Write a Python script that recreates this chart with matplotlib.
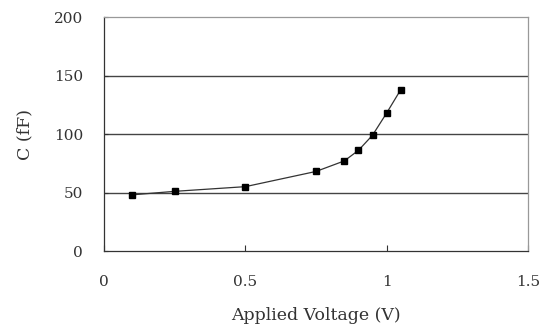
import matplotlib.pyplot as plt

# --- Data -------------------------------------------------------------------
voltage = [0.1, 0.25, 0.5, 0.75, 0.85, 0.9, 0.95, 1.0, 1.05]
capacitance = [48, 51, 55, 68, 77, 86, 99, 118, 138]

x_ticks = [0, 0.5, 1, 1.5]
x_tick_labels = ["0", "0.5", "1", "1.5"]
y_ticks = [0, 50, 100, 150, 200]

# --- Plot -------------------------------------------------------------------
plt.rcParams['font.family'] = ['DejaVu Serif', 'Liberation Serif']

fig = plt.figure(figsize=(5.55, 3.27), dpi=100)
ax = fig.add_axes([0.1874, 0.2324, 0.764, 0.7156])

# gridlines
for y in y_ticks[1:-1]:
    ax.axhline(y, color='#444444', lw=1.0, zorder=1)

ax.plot(voltage, capacitance, '-', color='#333333', lw=0.9, zorder=2)
ax.plot(voltage, capacitance, 's', color='black', markersize=5, zorder=3)

ax.set_xlim(0, 1.5)
ax.set_ylim(0, 200)
ax.set_xticks(x_ticks)
ax.set_xticklabels(x_tick_labels)
ax.set_yticks(y_ticks)

ax.spines['top'].set_color('#999999')
ax.spines['top'].set_linestyle((0, (2, 1)))
ax.spines['right'].set_color('#999999')
ax.spines['left'].set_color('#333333')
ax.spines['bottom'].set_color('#333333')
for s in ax.spines.values():
    s.set_linewidth(0.9)

ax.tick_params(axis='x', direction='in', length=4, width=0.8, pad=17,
               labelsize=11, colors='#333333')
ax.tick_params(axis='y', direction='in', length=3, width=0.8, pad=15,
               labelsize=11, colors='#333333')

ax.set_xlabel("Applied Voltage (V)", fontsize=12.5, color='#333333', labelpad=13)
ax.set_ylabel("C (fF)", fontsize=12.5, color='#333333', labelpad=15)

fig.savefig("out.png", dpi=100)
